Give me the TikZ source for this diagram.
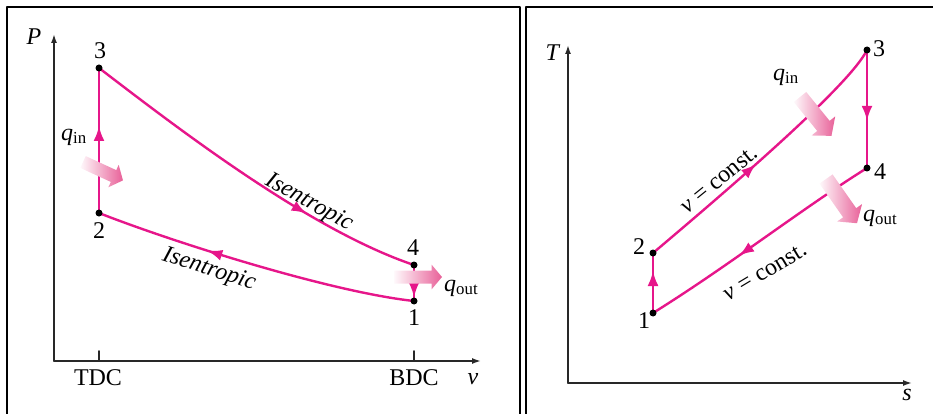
\documentclass[tikz,border=0pt]{standalone}
\usepackage{fontspec}
\setmainfont{Liberation Serif}
\usetikzlibrary{arrows.meta,decorations.markings}

\definecolor{cyclepink}{RGB}{230,22,138}
\definecolor{heatpink}{RGB}{232,96,152}
\definecolor{axisgray}{RGB}{40,40,40}

\tikzset{
  cycleline/.style={draw=cyclepink, line width=2.4pt},
  midarrow/.style={postaction={decorate,decoration={markings,
      mark=at position #1 with {\arrow[cyclepink]{Latex[length=15pt,width=11pt]}}}}},
  statedot/.style={circle, fill=black, inner sep=0pt, minimum size=7pt},
  axisline/.style={draw=axisgray, line width=1.6pt, -{Latex[length=9pt,width=6pt]}},
  axistick/.style={draw=axisgray, line width=1.6pt},
  panelframe/.style={draw=black, line width=1.6pt},
  lbl/.style={anchor=center, inner sep=0pt, font=\fontsize{24}{28}\selectfont},
}

% 粗的热量箭头：尾 (#1)，角度 #2，长度 #3，半宽 #4
\newcommand{\heatarrow}[4]{%
  \shade[shift={(#1)}, rotate=#2, left color=heatpink!4, right color=heatpink]
    (0,-#4) -- ({#3-1.6*#4},-#4) -- ({#3-1.6*#4},{-1.9*#4}) -- (#3,0)
    -- ({#3-1.6*#4},{1.9*#4}) -- ({#3-1.6*#4},#4) -- (0,#4) -- cycle;}

\begin{document}
\begin{tikzpicture}[x=1pt, y=-1pt, line cap=round, line join=round]

  %% ════ 外框 ════
  \draw[panelframe] (7,430) -- (7,7) -- (520,7) -- (520,430);
  \draw[panelframe] (526,430) -- (526,7) -- (945,7);

  %% ════ 左图：P-v 坐标轴 ════
  \coordinate (pvo) at (54,361);
  \coordinate (pvtop) at (54,34);
  \coordinate (pvend) at (481,361);
  \coordinate (tdc) at (99,361);
  \coordinate (bdc) at (414,361);
  \draw[axisline] (pvo) -- (pvtop);
  \draw[axisline] (pvo) -- (pvend);
  \draw[axistick] (tdc) -- ++(0,-10);
  \draw[axistick] (bdc) -- ++(0,-10);

  %% ════ 左图：状态点与过程线 ════
  \coordinate (pv3) at (99,68);
  \coordinate (pv2) at (99,213);
  \coordinate (pv4) at (414,265);
  \coordinate (pv1) at (414,301);
  \draw[cycleline, midarrow=0.68] (pv3) .. controls (180,130) and (310,230) .. (pv4);
  \draw[cycleline, midarrow=0.65] (pv1) .. controls (330,292) and (170,241) .. (pv2);
  \draw[cycleline, midarrow=0.6] (pv2) -- (pv3);
  \draw[cycleline, midarrow=0.9] (pv4) -- (pv1);

  \heatarrow{83,162}{-24.7}{44}{6.5}
  \heatarrow{394,277}{0}{48}{6.5}

  \node[statedot] (pv3dot) at (pv3) {};
  \node[statedot] (pv2dot) at (pv2) {};
  \node[statedot] (pv4dot) at (pv4) {};
  \node[statedot] (pv1dot) at (pv1) {};

  %% ════ 左图：标签 ════
  \node[lbl] (plbl) at (34,37) {\textit{P}};
  \node[lbl] (vlbl) at (473,379) {\textit{v}};
  \node[lbl] (tdclbl) at (98,378) {TDC};
  \node[lbl] (bdclbl) at (414,378) {BDC};
  \node[lbl] (n3lbl) at (100,51) {3};
  \node[lbl] (n2lbl) at (99,231) {2};
  \node[lbl] (n4lbl) at (413,248) {4};
  \node[lbl] (n1lbl) at (414,318) {1};
  \node[lbl] (qinl) at (74,137) {\textit{q}\textsubscript{in}};
  \node[lbl, anchor=west] (qoutl) at (444,288) {\textit{q}\textsubscript{out}};
  \node[lbl, rotate=-29] (isenup) at (309,203) {\textit{Isentropic}};
  \node[lbl, rotate=-18] (isenlo) at (209,270) {\textit{Isentropic}};

  %% ════ 右图：T-s 坐标轴 ════
  \coordinate (tso) at (568,383);
  \coordinate (tstop) at (568,45);
  \coordinate (tsend) at (912,383);
  \draw[axisline] (tso) -- (tstop);
  \draw[axisline] (tso) -- (tsend);

  %% ════ 右图：状态点与过程线 ════
  \coordinate (ts1) at (653,313);
  \coordinate (ts2) at (653,253);
  \coordinate (ts3) at (867,50);
  \coordinate (ts4) at (867,168);
  \draw[cycleline, midarrow=0.7] (ts1) -- (ts2);
  \draw[cycleline, midarrow=0.46] (ts2) .. controls (730,188) and (850,85) .. (ts3);
  \draw[cycleline, midarrow=0.6] (ts3) -- (ts4);
  \draw[cycleline, midarrow=0.6] (ts4) .. controls (800,210) and (730,265) .. (ts1);

  \heatarrow{800,97}{-51}{50}{8}
  \heatarrow{826,179}{-55}{54}{8}

  \node[statedot] (ts1dot) at (ts1) {};
  \node[statedot] (ts2dot) at (ts2) {};
  \node[statedot] (ts3dot) at (ts3) {};
  \node[statedot] (ts4dot) at (ts4) {};

  %% ════ 右图：标签 ════
  \node[lbl] (tlbl) at (553,53) {\textit{T}};
  \node[lbl] (slbl) at (907,395) {\textit{s}};
  \node[lbl] (m3lbl) at (879,49) {3};
  \node[lbl] (m4lbl) at (880,172) {4};
  \node[lbl] (m2lbl) at (639,247) {2};
  \node[lbl] (m1lbl) at (644,321) {1};
  \node[lbl] (qinr) at (786,77) {\textit{q}\textsubscript{in}};
  \node[lbl, anchor=west] (qoutr) at (863,218) {\textit{q}\textsubscript{out}};
  \node[lbl, rotate=39] (vconup) at (719,180) {\textit{v} = const.};
  \node[lbl, rotate=31] (vconlo) at (765,272) {\textit{v} = const.};

  % 钉死画布
  \pgfresetboundingbox
  \path[use as bounding box] (0,0) rectangle (933,414);
\end{tikzpicture}
\end{document}
